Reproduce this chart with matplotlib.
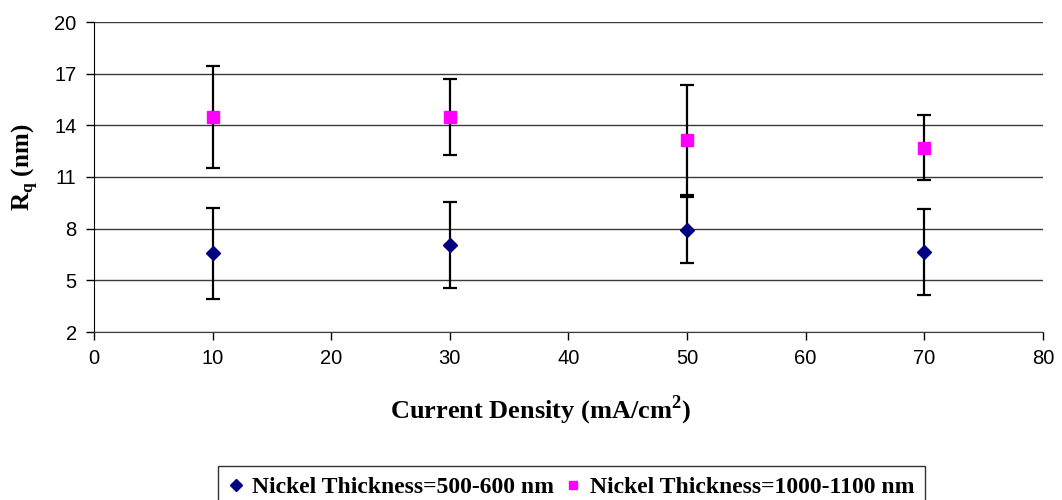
import matplotlib

matplotlib.use("Agg")

import matplotlib.pyplot as plt

current_density = [10, 30, 50, 70]

thin_rq = [6.57, 7.07, 7.92, 6.64]
thin_err = [2.63, 2.5, 1.9, 2.5]

thick_rq = [14.5, 14.5, 13.15, 12.7]
thick_err = [2.95, 2.2, 3.2, 1.88]

series_labels = ["Nickel Thickness=500-600 nm", "Nickel Thickness=1000-1100 nm"]
y_ticks = [2, 5, 8, 11, 14, 17, 20]
x_ticks = [0, 10, 20, 30, 40, 50, 60, 70, 80]

plt.rcParams["mathtext.fontset"] = "custom"
plt.rcParams["mathtext.rm"] = "Liberation Serif"
plt.rcParams["mathtext.bf"] = "Liberation Serif:bold"

serif_bold = dict(family="Liberation Serif", weight="bold")

fig = plt.figure(figsize=(10.62, 5.0), dpi=100)
fig.patch.set_facecolor("white")
ax = fig.add_axes([0.0885, 0.336, 0.8935, 0.62])

err_style = dict(ecolor="black", elinewidth=1.6, capsize=5, capthick=1.6, linestyle="none", zorder=3)
h1 = ax.errorbar(current_density, thin_rq, yerr=thin_err, marker="D", markersize=7.5,
                 color="#000080", markeredgecolor="#000080", **err_style)
h2 = ax.errorbar(current_density, thick_rq, yerr=thick_err, marker="s", markersize=8,
                 color="#ff00ff", markeredgecolor="#ff00ff", **err_style)

ax.set_xlim(0, 80)
ax.set_ylim(2, 20)
ax.set_xticks(x_ticks)
ax.set_yticks(y_ticks)
ax.tick_params(direction="out", length=5.5, width=1, labelsize=14.5, colors="black", pad=7)
for lab in ax.get_xticklabels() + ax.get_yticklabels():
    lab.set_family("Liberation Sans")

ax.grid(axis="y", color="#3a3a3a", linewidth=1.0)
ax.grid(axis="x", visible=False)
ax.set_axisbelow(True)
ax.spines[["top", "right"]].set_visible(False)
ax.spines["left"].set_color("black")
ax.spines["bottom"].set_color("#3a3a3a")

ax.set_xlabel("Current Density (mA/cm$^\\mathbf{2}$)", fontsize=19, va="center", **serif_bold)
ax.xaxis.set_label_coords(0.471, -0.252)
ax.set_ylabel("R$_\\mathbf{q}$ (nm)", fontsize=18, va="center", **serif_bold)
ax.yaxis.set_label_coords(-0.073, 0.53)

leg = fig.legend([h1[0], h2[0]], series_labels, loc="center", bbox_to_anchor=(0.538, 0.026),
                 ncol=2, frameon=True, fancybox=False, edgecolor="black", handlelength=0.6,
                 handletextpad=0.4, columnspacing=0.5, borderpad=0.45, markerscale=0.8,
                 prop=dict(family="Liberation Serif", weight="bold", size=17))
leg.get_frame().set_linewidth(1.0)

fig.savefig("out.png", dpi=100)
